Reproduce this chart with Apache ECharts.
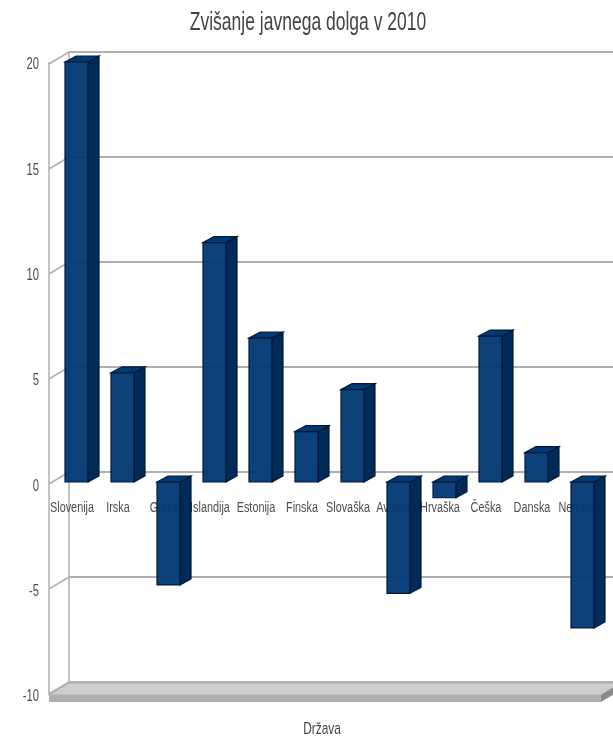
<!DOCTYPE html>
<html><head><meta charset="utf-8">
<style>html,body{margin:0;padding:0;background:#fff}#c{width:613px;height:738px}</style>
<script src="https://cdn.jsdelivr.net/npm/echarts@6/dist/echarts.min.js"></script>
</head><body><div id="c"></div>
<script>
const titleText = 'Zvišanje javnega dolga v 2010';
const xAxisTitle = 'Država';
const categories = ['Slovenija','Irska','Grčija','Islandija','Estonija','Finska','Slovaška','Avstrija','Hrvaška','Češka','Danska','Nemčija'];
const values = [20, 5.2, -4.9, 11.4, 6.85, 2.4, 4.4, -5.3, -0.75, 6.95, 1.4, -6.95];
const yTicks = [-10,-5,0,5,10,15,20];

const FONT = '"Liberation Sans",sans-serif';
const SQUEEZE = 0.7;             // the reference's text is horizontally condensed
const DX = 20, DY = 12;          // wall depth
const BDX = 11, BDY = 6;         // bar depth
const BW = 23;                   // bar width
const TEXT = '#4d4d4d';
const chart = echarts.init(document.getElementById('c'), null, {renderer:'canvas'});

function wallEdges(params, api){
  const back = api.coord([0, api.value(0)]);
  return {type:'line', silent:true,
    shape:{x1:back[0]-DX, y1:back[1]+DY, x2:back[0], y2:back[1]},
    style:{stroke:'#b0b0b0', lineWidth:1.5}};
}
function floor(params, api){
  const a = api.coord([0, -10]), b = api.coord([1, -10]);
  const FH = 7;
  return {type:'group', silent:true, children:[
    {type:'polygon', shape:{points:[[a[0]+DX,a[1]-DY],[b[0]+DX,b[1]-DY],[b[0],b[1]],[a[0],a[1]]]},
      style:{fill:'#cdcdcd', stroke:'#adadad', lineWidth:1}},
    {type:'rect', shape:{x:a[0], y:a[1], width:b[0]-a[0], height:FH},
      style:{fill:'#b0b0b0'}},
    {type:'polygon', shape:{points:[[b[0],b[1]],[b[0]+DX,b[1]-DY],[b[0]+DX,b[1]-DY+FH],[b[0],b[1]+FH]]},
      style:{fill:'#8a8a8a'}}
  ]};
}
function bar3d(params, api){
  const p0 = api.coord([api.value(0), 0]);
  const p1 = api.coord([api.value(0), api.value(1)]);
  const l = p0[0]-BW/2, r = p0[0]+BW/2;
  const top = Math.min(p0[1],p1[1]), bot = Math.max(p0[1],p1[1]);
  const stroke = '#001a3a';
  return {type:'group', children:[
    {type:'polygon', shape:{points:[[r,top],[r+BDX,top-BDY],[r+BDX,bot-BDY],[r,bot]]},
      style:{fill:'#002a57', stroke, lineWidth:1.2}},
    {type:'polygon', shape:{points:[[l,top],[l+BDX,top-BDY],[r+BDX,top-BDY],[r,top]]},
      style:{fill:'#003a75', stroke, lineWidth:1.2}},
    {type:'rect', shape:{x:l, y:top, width:BW, height:bot-top},
      style:{fill:'rgba(0,55,115,0.95)', stroke, lineWidth:1.2}}
  ]};
}
function catLabel(params, api){
  const p = api.coord([api.value(0), 0]);
  return {type:'text', silent:true, x:p[0], y:p[1]+23, scaleX:SQUEEZE,
    style:{text:categories[api.value(0)], textAlign:'center', textVerticalAlign:'middle',
           font:'15.5px '+FONT, fill:TEXT}};
}
function yLabel(params, api){
  const p = api.coord([0, api.value(0)]);
  return {type:'text', silent:true, x:p[0]-10, y:p[1]+2, scaleX:SQUEEZE,
    style:{text:String(api.value(0)), textAlign:'right', textVerticalAlign:'middle',
           font:'16px '+FONT, fill:TEXT}};
}
function heading(text, x, y, size){
  return {type:'text', silent:true, x, y, scaleX:SQUEEZE,
    style:{text, textAlign:'center', textVerticalAlign:'middle', font:size+'px '+FONT, fill:'#444'}};
}

const hiddenX = {type:'value', min:0, max:1, show:false};
chart.setOption({
  animation:false,
  backgroundColor:'#fff',
  graphic:[heading(titleText, 308, 23, 25), heading(xAxisTitle, 322, 729, 17)],
  grid:[
    {left:69, top:52, width:552, height:630},     // back wall
    {left:49, top:63, width:552, height:632},     // front plane
    {left:53.5, top:62, width:552, height:630}    // bar plane
  ],
  xAxis:[
    {gridIndex:0, ...hiddenX},
    {gridIndex:1, type:'category', data:categories, show:false},
    {gridIndex:2, type:'category', data:categories, show:false},
    {gridIndex:1, ...hiddenX}
  ],
  yAxis:[
    {gridIndex:0, type:'value', min:-10, max:20, interval:5,
     axisLine:{show:true, lineStyle:{color:'#b0b0b0', width:1.5}}, axisTick:{show:false}, axisLabel:{show:false},
     splitLine:{show:true, lineStyle:{color:'#b0b0b0', width:2}}},
    {gridIndex:1, type:'value', min:-10, max:20, interval:5,
     axisLine:{show:true, lineStyle:{color:'#b0b0b0', width:1.5}}, axisTick:{show:false}, splitLine:{show:false},
     axisLabel:{show:false}},
    {gridIndex:2, type:'value', min:-10, max:20, interval:5, show:false, splitLine:{show:false}}
  ],
  series:[
    {type:'custom', xAxisIndex:0, yAxisIndex:0, clip:false, z:1, silent:true,
     data:yTicks.map(v=>[v]), renderItem:wallEdges},
    {type:'custom', xAxisIndex:3, yAxisIndex:1, clip:false, z:1, silent:true,
     data:[[0]], renderItem:floor},
    {type:'custom', xAxisIndex:1, yAxisIndex:1, clip:false, z:2, silent:true,
     data:categories.map((c,i)=>[i]), renderItem:catLabel},
    {type:'custom', xAxisIndex:3, yAxisIndex:1, clip:false, z:2, silent:true,
     data:yTicks.map(v=>[v]), renderItem:yLabel},
    {type:'custom', xAxisIndex:2, yAxisIndex:2, clip:false, z:5,
     data:values.map((v,i)=>[i,v]), encode:{x:0,y:1}, renderItem:bar3d}
  ]
});
</script></body></html>
